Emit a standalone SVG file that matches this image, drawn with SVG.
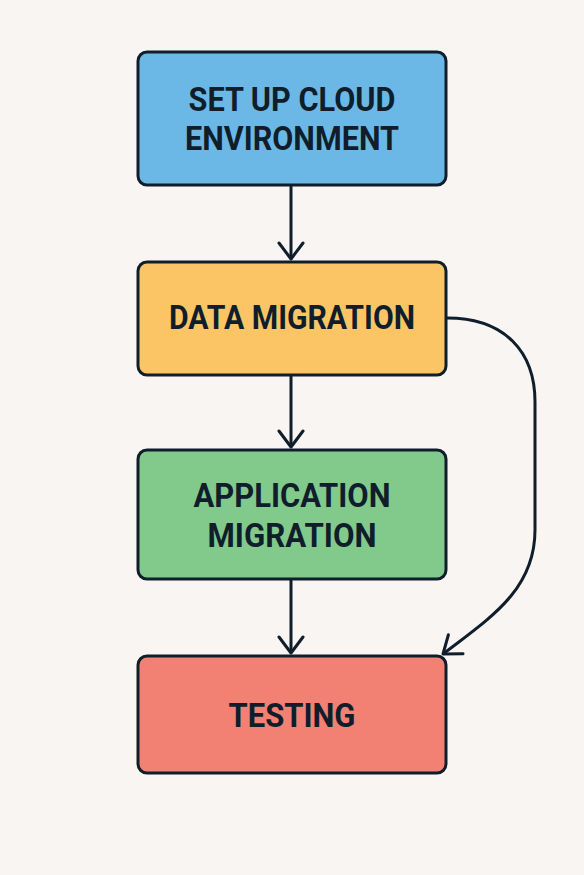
<svg xmlns="http://www.w3.org/2000/svg" width="584" height="875" viewBox="0 0 584 875">
<defs>
<marker id="arr" viewBox="-18 -14 22 28" refX="0" refY="0" markerWidth="22" markerHeight="28" markerUnits="userSpaceOnUse" orient="auto">
<path d="M-16,-12 L0,0 L-16,12" fill="none" stroke="#0f1e2a" stroke-width="3" stroke-linecap="round" stroke-linejoin="round"/>
</marker>
</defs>
<style>
.box{stroke:#0f1e2a;stroke-width:3}
.lbl{font-family:Roboto,"Liberation Sans",sans-serif;font-weight:bold;font-size:34px;fill:#0f1e2a;text-anchor:middle}
.con{fill:none;stroke:#0f1e2a;stroke-width:3;marker-end:url(#arr)}
</style>
<rect width="584" height="875" fill="#f8f5f2"/>
<g id="connectors">
<path class="con" d="M291,186 L291,259"/>
<path class="con" d="M291,376 L291,447"/>
<path class="con" d="M291,580 L291,653"/>
<path class="con" d="M447,318 C505,318 535,352 535,402 L535,530 C535,590 490,618 443,654"/>
</g>
<g id="n1">
<rect class="box" x="138" y="52" width="308" height="133" rx="9" fill="#6bb8e6"/>
<text class="lbl" x="292" y="111" textLength="207" lengthAdjust="spacingAndGlyphs">SET UP CLOUD</text>
<text class="lbl" x="292" y="150" textLength="214" lengthAdjust="spacingAndGlyphs">ENVIRONMENT</text>
</g>
<g id="n2">
<rect class="box" x="138" y="262" width="308" height="113" rx="9" fill="#fbc566"/>
<text class="lbl" x="292" y="329" textLength="246" lengthAdjust="spacingAndGlyphs">DATA MIGRATION</text>
</g>
<g id="n3">
<rect class="box" x="138" y="450" width="308" height="129" rx="9" fill="#82c98c"/>
<text class="lbl" x="292" y="507" textLength="197" lengthAdjust="spacingAndGlyphs">APPLICATION</text>
<text class="lbl" x="292" y="547" textLength="169" lengthAdjust="spacingAndGlyphs">MIGRATION</text>
</g>
<g id="n4">
<rect class="box" x="138" y="656" width="308" height="117" rx="9" fill="#f28073"/>
<text class="lbl" x="292" y="727" textLength="127" lengthAdjust="spacingAndGlyphs">TESTING</text>
</g>
</svg>
